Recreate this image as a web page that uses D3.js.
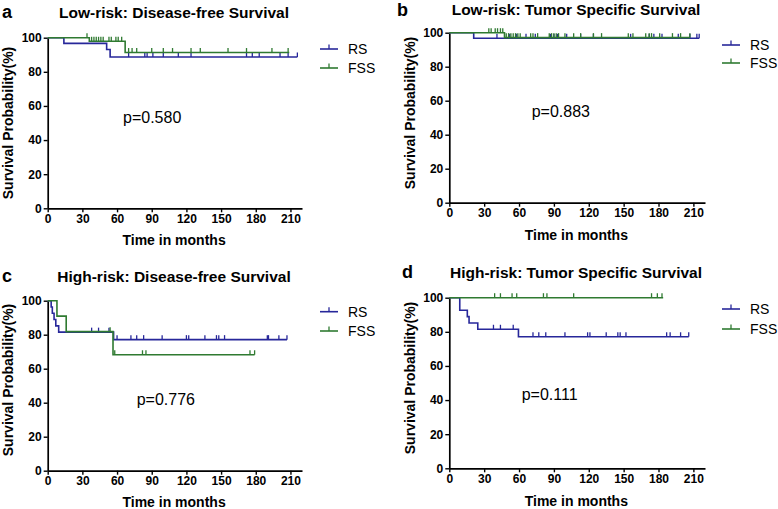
<!DOCTYPE html>
<html>
<head>
<meta charset="utf-8">
<script src="https://cdn.jsdelivr.net/npm/d3@7/dist/d3.min.js"></script>
<style>
  html, body { margin: 0; padding: 0; background: #fff; }
  svg { display: block; font-family: "Liberation Sans", Arial, sans-serif; }
</style>
</head>
<body>
<svg id="chart" width="778" height="509"></svg>
<script>
// ---------- DATA ----------
const xTicks = [0, 30, 60, 90, 120, 150, 180, 210];
const yTicks = [0, 20, 40, 60, 80, 100];
const seriesNames = ["RS", "FSS"];
const panelLetters = ["a", "b", "c", "d"];
const panelTitles = [
  "Low-risk: Disease-free Survival",
  "Low-risk: Tumor Specific Survival",
  "High-risk: Disease-free Survival",
  "High-risk: Tumor Specific Survival"
];
const pValues = ["p=0.580", "p=0.883", "p=0.776", "p=0.111"];

// Panel a: low-risk DFS
const rsA_eventTimes = [14, 51, 54];
const rsA_survival = [96.7, 93.1, 88.7];
const rsA_censored = [70, 84, 86, 91, 100, 113, 124, 172, 177, 183, 201, 208, 216];
const rsA_end = 216;
const fssA_eventTimes = [36, 67];
const fssA_survival = [97.9, 91.3];
const fssA_censored = [34, 38, 40, 42, 44, 46, 48, 53, 55, 59, 61, 64, 70, 73, 77, 90, 100, 108, 124, 132, 156, 172, 194, 208];
const fssA_end = 209;

// Panel b: low-risk TSS
const rsB_eventTimes = [21];
const rsB_survival = [96.7];
const rsB_censored = [41, 52, 58, 66, 74, 87, 90, 93, 101, 113, 124, 156, 172, 176, 183, 197, 207, 213, 215];
const rsB_end = 215;
const fssB_eventTimes = [47.5];
const fssB_survival = [97.1];
const fssB_censored = [34, 36, 39.5, 41.5, 44, 46, 49, 51, 53, 55, 57, 59, 61, 70, 72, 76, 86, 88, 90, 92, 94, 99.5, 107, 113, 124, 131, 154, 158, 169, 172, 174, 181, 192, 199, 207];
const fssB_end = 207;

// Panel c: high-risk DFS
const rsC_eventTimes = [3, 4, 5.5, 7, 9.5, 57];
const rsC_survival = [96.3, 92.6, 88.9, 85.2, 81.5, 77.1];
const rsC_censored = [38, 44, 53, 60, 72, 77, 83, 99, 120, 122, 136, 146, 148, 153, 190, 191, 200, 207];
const rsC_end = 207;
const fssC_eventTimes = [8, 16, 56.5];
const fssC_survival = [90.9, 81.8, 68.2];
const fssC_censored = [54, 58, 82, 85, 175, 179];
const fssC_end = 179;

// Panel d: high-risk TSS
const rsD_eventTimes = [9, 15.5, 17, 24.5, 59.5];
const rsD_survival = [92.6, 88.9, 85.2, 81.5, 77.1];
const rsD_censored = [38, 44, 55, 72, 77, 83, 99.5, 119, 121, 135, 145, 147, 152, 187, 190, 199, 206];
const rsD_end = 206;
const fssD_eventTimes = [];
const fssD_survival = [];
const fssD_censored = [39, 44, 54, 58, 81, 84, 107, 174, 179, 183];
const fssD_end = 184;

// ---------- LAYOUT / STYLE ----------
const colors = { RS: "#27279a", FSS: "#2f7a31" };
const xDomainMax = 220;

const panels = [
  { x0: 47.7, x1: 302, yTop: 37.7, yBot: 208.3, titleX: 174, titleY: 18, letterX: 2, letterY: 18,
    ylabX: 13, ylabY: 123, xlabY: 245, pX: 123, pY: 123, legX: 320, legY: [49, 68],
    rs: [rsA_eventTimes, rsA_survival, rsA_censored, rsA_end], fss: [fssA_eventTimes, fssA_survival, fssA_censored, fssA_end] },
  { x0: 449.3, x1: 705, yTop: 32.7, yBot: 202.7, titleX: 576, titleY: 14.5, letterX: 397, letterY: 16,
    ylabX: 415, ylabY: 113, xlabY: 240, pX: 531.7, pY: 117, legX: 722, legY: [45, 63],
    rs: [rsB_eventTimes, rsB_survival, rsB_censored, rsB_end], fss: [fssB_eventTimes, fssB_survival, fssB_censored, fssB_end] },
  { x0: 47.7, x1: 302, yTop: 300.7, yBot: 470.7, titleX: 174, titleY: 282, letterX: 2, letterY: 282,
    ylabX: 13, ylabY: 380, xlabY: 507, pX: 136.7, pY: 405, legX: 320, legY: [311.7, 331],
    rs: [rsC_eventTimes, rsC_survival, rsC_censored, rsC_end], fss: [fssC_eventTimes, fssC_survival, fssC_censored, fssC_end] },
  { x0: 449.3, x1: 705, yTop: 297.7, yBot: 468.3, titleX: 576, titleY: 278, letterX: 402, letterY: 278,
    ylabX: 415, ylabY: 378, xlabY: 506, pX: 521.7, pY: 400, legX: 722, legY: [309, 329],
    rs: [rsD_eventTimes, rsD_survival, rsD_censored, rsD_end], fss: [fssD_eventTimes, fssD_survival, fssD_censored, fssD_end] }
];

const svg = d3.select("#chart");

function survivalAt(times, surv, t) {
  let s = 100;
  for (let i = 0; i < times.length; i++) if (times[i] <= t) s = surv[i];
  return s;
}

function stepPoints(times, surv, end) {
  const pts = [[0, 100]];
  let s = 100;
  for (let i = 0; i < times.length; i++) {
    pts.push([times[i], s]);
    s = surv[i];
    pts.push([times[i], s]);
  }
  pts.push([end, s]);
  return pts;
}

panels.forEach((p, i) => {
  const g = svg.append("g");
  const x = d3.scaleLinear().domain([0, xDomainMax]).range([p.x0, p.x1]);
  const y = d3.scaleLinear().domain([0, 100]).range([p.yBot, p.yTop]);

  // axes
  const xAxis = d3.axisBottom(x).tickValues(xTicks).tickSize(4).tickSizeOuter(0).tickPadding(2);
  const yAxis = d3.axisLeft(y).tickValues(yTicks).tickSize(4).tickSizeOuter(0).tickPadding(2);
  const gx = g.append("g").attr("transform", `translate(0,${p.yBot})`).call(xAxis);
  const gy = g.append("g").attr("transform", `translate(${p.x0},0)`).call(yAxis);
  [gx, gy].forEach(ax => {
    ax.select(".domain").attr("stroke", "#000").attr("stroke-width", 1.7);
    ax.selectAll(".tick line").attr("stroke", "#000").attr("stroke-width", 1.4);
    ax.selectAll(".tick text").attr("fill", "#000").attr("font-size", 12).attr("font-weight", "bold")
      .attr("font-family", "Liberation Sans, Arial, sans-serif");
  });

  // curves: draw RS first then FSS on top
  const series = [["RS", p.rs], ["FSS", p.fss]];
  series.forEach(([name, d]) => {
    const [times, surv, cens, end] = d;
    const line = d3.line().x(v => x(v[0])).y(v => y(v[1]));
    g.append("path").datum(stepPoints(times, surv, end))
      .attr("d", line).attr("fill", "none")
      .attr("stroke", colors[name]).attr("stroke-width", 1.6);
    g.selectAll(null).data(cens).enter().append("line")
      .attr("x1", t => x(t)).attr("x2", t => x(t))
      .attr("y1", t => y(survivalAt(times, surv, t)))
      .attr("y2", t => y(survivalAt(times, surv, t)) - 4.5)
      .attr("stroke", colors[name]).attr("stroke-width", 1.3);
  });

  // titles
  g.append("text").attr("x", p.titleX).attr("y", p.titleY).attr("text-anchor", "middle")
    .attr("font-size", 15.5).attr("font-weight", "bold").text(panelTitles[i]);
  g.append("text").attr("x", p.letterX).attr("y", p.letterY)
    .attr("font-size", 18).attr("font-weight", "bold").text(panelLetters[i]);

  // axis labels
  g.append("text").attr("transform", `translate(${p.ylabX},${p.ylabY}) rotate(-90)`)
    .attr("text-anchor", "middle").attr("font-size", 14).attr("font-weight", "bold")
    .text("Survival Probability(%)");
  g.append("text").attr("x", (p.x0 + x(210)) / 2 + 5).attr("y", p.xlabY).attr("text-anchor", "middle")
    .attr("font-size", 14).attr("font-weight", "bold").text("Time in months");

  // p value
  g.append("text").attr("x", p.pX).attr("y", p.pY).attr("font-size", 16).text(pValues[i]);

  // legend
  seriesNames.forEach((name, k) => {
    const ly = p.legY[k];
    g.append("line").attr("x1", p.legX).attr("x2", p.legX + 18).attr("y1", ly).attr("y2", ly)
      .attr("stroke", colors[name]).attr("stroke-width", 1.6);
    g.append("line").attr("x1", p.legX + 9).attr("x2", p.legX + 9).attr("y1", ly).attr("y2", ly - 4.5)
      .attr("stroke", colors[name]).attr("stroke-width", 1.3);
    g.append("text").attr("x", p.legX + 28).attr("y", ly + 5).attr("font-size", 14).text(name);
  });
});
</script>
</body>
</html>
